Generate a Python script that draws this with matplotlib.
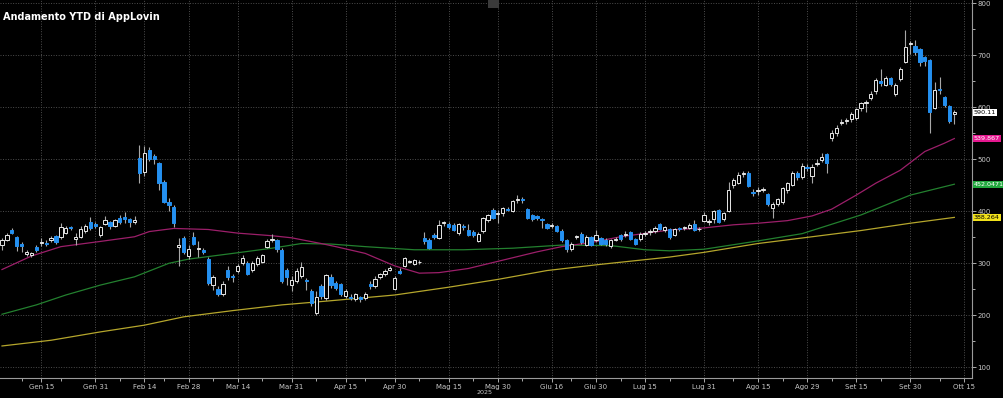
#!/usr/bin/env python3
"""
AppLovin YTD candlestick chart with 50/100/200-day moving averages.
"""
import matplotlib
matplotlib.use("Agg")
import matplotlib.pyplot as plt
import numpy as np
import pandas as pd

# ---- data ----
holidays = ["2025-01-09", "2025-01-20", "2025-02-17", "2025-04-18",
            "2025-05-26", "2025-06-19", "2025-07-04", "2025-09-01"]

opens = [336, 345, 364, 350, 337, 318, 315, 331, 339, 338,
         344, 353, 350, 359, 370, 347, 351, 363, 380, 375,
         354, 375, 380, 372, 388, 389, 386, 380, 502, 475,
         517, 507, 492, 457, 418, 409, 331, 349, 314, 351,
         328, 326, 308, 258, 250, 240, 287, 276, 286, 300,
         301, 287, 298, 302, 332, 345, 344, 326, 288, 258,
         265, 275, 268, 246, 205, 256, 233, 273, 262, 261,
         237, 236, 232, 235, 233, 260, 256, 274, 279, 288,
         250, 286, 295, 302, 299, 302, 348, 345, 354, 349,
         377, 376, 373, 358, 372, 364, 361, 342, 362, 384,
         403, 395, 396, 405, 401, 421, 424, 404, 393, 390,
         386, 376, 371, 372, 363, 345, 327, 350, 357, 336,
         350, 344, 349, 345, 334, 345, 355, 355, 361, 346,
         346, 357, 360, 362, 376, 364, 366, 355, 367, 367,
         368, 375, 365, 382, 380, 385, 402, 385, 400, 450,
         455, 471, 474, 438, 439, 441, 434, 406, 414, 418,
         441, 451, 473, 465, 485, 467, 491, 499, 510, 540,
         550, 569, 573, 577, 580, 598, 608, 617, 632, 650,
         643, 656, 626, 654, 688, 722, 718, 712, 696, 690,
         598, 636, 620, 603, 588]

highs = [348, 358, 368, 352, 341, 326, 322, 335, 348, 344,
         353, 355, 378, 371, 372, 358, 372, 376, 389, 380,
         372, 391, 382, 386, 393, 399, 388, 391, 527, 525,
         523, 510, 495, 460, 425, 412, 348, 352, 335, 361,
         342, 330, 312, 278, 256, 266, 295, 280, 298, 316,
         304, 305, 314, 318, 346, 356, 347, 329, 290, 275,
         290, 303, 271, 250, 246, 260, 280, 280, 266, 263,
         250, 240, 243, 238, 244, 265, 275, 281, 289, 294,
         275, 290, 313, 307, 309, 306, 360, 348, 358, 383,
         382, 380, 377, 378, 375, 375, 364, 360, 389, 395,
         406, 403, 409, 408, 422, 431, 427, 406, 395, 392,
         387, 378, 378, 374, 365, 347, 340, 355, 360, 354,
         352, 364, 351, 348, 346, 350, 357, 362, 363, 349,
         360, 362, 366, 371, 378, 372, 368, 368, 369, 372,
         377, 383, 369, 398, 385, 402, 404, 398, 457, 464,
         476, 478, 477, 442, 446, 447, 436, 418, 426, 447,
         457, 477, 477, 493, 490, 490, 500, 513, 513, 556,
         565, 577, 580, 590, 599, 611, 614, 632, 656, 673,
         660, 658, 646, 677, 749, 728, 730, 714, 699, 693,
         649, 659, 622, 605, 595]

lows = [326, 343, 356, 324, 321, 314, 313, 322, 333, 333,
        340, 338, 346, 356, 364, 336, 348, 358, 364, 368,
        350, 373, 366, 369, 376, 378, 370, 375, 455, 468,
        497, 490, 440, 416, 400, 370, 294, 318, 308, 335,
        313, 318, 258, 249, 238, 238, 268, 264, 282, 296,
        278, 283, 294, 300, 329, 341, 322, 262, 258, 246,
        262, 272, 249, 218, 201, 232, 230, 253, 248, 238,
        233, 229, 228, 226, 230, 250, 252, 270, 276, 285,
        248, 279, 292, 300, 296, 298, 338, 328, 346, 346,
        372, 366, 362, 355, 364, 352, 350, 340, 358, 380,
        385, 378, 390, 400, 398, 415, 415, 385, 382, 384,
        368, 365, 367, 360, 341, 322, 323, 346, 338, 333,
        333, 341, 335, 334, 330, 343, 343, 350, 344, 336,
        343, 352, 355, 358, 364, 360, 346, 352, 362, 364,
        366, 362, 362, 379, 374, 377, 378, 382, 398, 445,
        452, 466, 446, 430, 431, 437, 411, 388, 410, 414,
        436, 448, 461, 462, 478, 455, 488, 494, 473, 536,
        545, 565, 568, 572, 576, 593, 590, 614, 626, 641,
        640, 640, 622, 650, 686, 703, 700, 680, 680, 550,
        596, 626, 600, 570, 567]

closes = [345, 355, 359, 333, 333, 321, 319, 326, 341, 337,
          349, 341, 370, 367, 367, 351, 366, 371, 367, 372,
          370, 383, 371, 383, 379, 386, 379, 383, 473, 513,
          500, 500, 454, 418, 413, 378, 335, 322, 327, 338,
          330, 321, 262, 273, 240, 260, 274, 273, 294, 310,
          280, 300, 310, 315, 342, 347, 327, 266, 274, 268,
          286, 292, 265, 224, 236, 237, 277, 258, 252, 240,
          247, 233, 240, 232, 240, 257, 270, 279, 286, 291,
          272, 282, 310, 304, 306, 303, 342, 330, 351, 373,
          379, 369, 364, 375, 370, 355, 355, 357, 387, 392,
          388, 397, 406, 403, 420, 423, 421, 387, 386, 388,
          384, 368, 373, 363, 344, 327, 337, 352, 340, 351,
          336, 355, 338, 338, 344, 347, 346, 357, 347, 338,
          357, 359, 362, 368, 366, 370, 351, 366, 365, 369,
          374, 364, 366, 393, 382, 400, 380, 396, 441, 460,
          470, 473, 449, 436, 441, 443, 414, 414, 423, 444,
          454, 473, 465, 487, 483, 486, 493, 505, 492, 550,
          561, 571, 575, 587, 596, 608, 610, 626, 652, 647,
          656, 645, 643, 674, 716, 724, 707, 688, 689, 590,
          634, 633, 605, 573, 590.11]

ma50_dates = ["2025-01-02", "2025-01-13", "2025-01-22", "2025-02-03", "2025-02-12",
              "2025-02-18", "2025-02-25", "2025-03-06", "2025-03-14", "2025-03-25",
              "2025-03-31", "2025-04-08", "2025-04-11", "2025-04-22", "2025-04-30",
              "2025-05-07", "2025-05-13", "2025-05-21", "2025-06-02", "2025-06-11",
              "2025-06-18", "2025-06-27", "2025-07-08", "2025-07-22", "2025-07-31",
              "2025-08-08", "2025-08-15", "2025-08-25", "2025-09-02", "2025-09-08",
              "2025-09-15", "2025-09-19", "2025-09-26", "2025-10-03", "2025-10-09",
              "2025-10-13"]
ma50_vals = [288, 314, 332, 342, 351, 361, 367, 365, 358, 353,
             349, 338, 332, 319, 295, 281, 282, 290, 306, 322,
             332, 340, 351, 364, 368, 374, 377, 382, 391, 404,
             431, 454, 479, 515, 531, 539.867]

ma100_dates = ["2025-01-02", "2025-01-14", "2025-01-23", "2025-02-03", "2025-02-12",
               "2025-02-24", "2025-02-28", "2025-03-13", "2025-03-25", "2025-04-02",
               "2025-04-10", "2025-04-22", "2025-05-06", "2025-05-20", "2025-06-04",
               "2025-06-18", "2025-07-03", "2025-07-15", "2025-07-22", "2025-07-31",
               "2025-08-15", "2025-08-28", "2025-09-16", "2025-09-30", "2025-10-13"]
ma100_vals = [202, 220, 239, 258, 274, 300, 308, 319, 329, 338,
              337, 332, 326, 326, 329, 335, 334, 326, 324, 327,
              343, 357, 393, 431, 452.0471]

ma200_dates = ["2025-01-02", "2025-01-17", "2025-02-03", "2025-02-14", "2025-02-27",
               "2025-03-13", "2025-03-27", "2025-04-10", "2025-04-30", "2025-05-15",
               "2025-05-30", "2025-06-13", "2025-06-30", "2025-07-22", "2025-07-31",
               "2025-08-15", "2025-09-02", "2025-09-16", "2025-09-30", "2025-10-13"]
ma200_vals = [141, 152, 168, 181, 197, 209, 220, 228, 239, 254,
              269, 286, 297, 312, 321, 338, 351, 363, 377, 388.264]

tick_dates = ["2025-01-15", "2025-01-31", "2025-02-14", "2025-02-28", "2025-03-14",
              "2025-03-31", "2025-04-15", "2025-04-30", "2025-05-15", "2025-05-30",
              "2025-06-16", "2025-06-30", "2025-07-15", "2025-07-31", "2025-08-15",
              "2025-08-29", "2025-09-15", "2025-09-30", "2025-10-15"]
tick_labels = ["Gen 15", "Gen 31", "Feb 14", "Feb 28", "Mar 14", "Mar 31", "Apr 15",
               "Apr 30", "Mag 15", "Mag 30", "Giu 16", "Giu 30", "Lug 15", "Lug 31",
               "Ago 15", "Ago 29", "Set 15", "Set 30", "Ott 15"]
minor_dates = ["2025-01-08", "2025-01-22", "2025-02-07", "2025-02-21", "2025-03-07",
               "2025-03-21", "2025-04-07", "2025-04-22", "2025-05-07", "2025-05-22",
               "2025-06-06", "2025-06-23", "2025-07-08", "2025-07-22", "2025-08-08",
               "2025-08-22", "2025-09-08", "2025-09-22", "2025-10-08"]

UP = "#e8e8e8"
DOWN = "#2490f0"
WICK = "#a8a8a8"


def main() -> None:
    sessions = pd.bdate_range("2025-01-02", "2025-10-31", freq="C", holidays=holidays)

    def pos(days):
        return sessions.searchsorted(pd.to_datetime(days))

    o = np.array(opens, float)
    h = np.array(highs, float)
    lo = np.array(lows, float)
    c = np.array(closes, float)
    x = np.arange(len(c))
    up = c >= o

    fig = plt.figure(figsize=(10.04, 3.98), dpi=100, facecolor="black")
    ax = fig.add_axes([0, 20 / 398, 972 / 1004, 378 / 398])
    ax.set_facecolor("black")
    ax.set_xlim(-0.41, 197.6)
    ax.set_ylim(79.4, 806.3)

    # moving averages
    ax.plot(pos(ma200_dates), ma200_vals, color="#b5a62c", lw=0.9, zorder=2)
    ax.plot(pos(ma100_dates), ma100_vals, color="#23802f", lw=0.9, zorder=2)
    ax.plot(pos(ma50_dates), ma50_vals, color="#9c1f6a", lw=0.9, zorder=2)

    # candles
    ax.vlines(x, lo, h, color=WICK, lw=0.8, zorder=3)
    body_lo = np.minimum(o, c)
    body_h = np.maximum(np.abs(c - o), 1.2)
    ax.bar(x[up], body_h[up], bottom=body_lo[up], width=0.66,
           facecolor="black", edgecolor=UP, linewidth=0.7, zorder=4)
    ax.bar(x[~up], body_h[~up], bottom=body_lo[~up], width=0.66,
           facecolor=DOWN, edgecolor=DOWN, linewidth=0.7, zorder=4)

    # axes styling
    ax.yaxis.tick_right()
    ax.set_yticks(range(100, 900, 100))
    ax.set_yticks(range(150, 800, 100), minor=True)
    ax.set_xticks(pos(tick_dates))
    ax.set_xticks(pos(minor_dates), minor=True)
    ax.set_xticklabels(tick_labels)
    ax.tick_params(colors="#c8c8c8", labelsize=5, length=3, width=0.6, pad=1)
    ax.tick_params(which="minor", length=2, width=0.6, colors="#c8c8c8")
    ax.grid(which="major", color="#4d4d4d", linestyle=(0, (1, 1.6)), linewidth=0.7)
    for side in ("top", "left"):
        ax.spines[side].set_visible(False)
    for side in ("right", "bottom"):
        ax.spines[side].set_color("#9a9a9a")
        ax.spines[side].set_linewidth(0.8)

    # last-value tags
    tags = [(closes[-1], f"{closes[-1]:.2f}", "white", "black"),
            (ma50_vals[-1], "539.867", "#e5178f", "white"),
            (ma100_vals[-1], "452.0471", "#22a83e", "white"),
            (ma200_vals[-1], "388.264", "#f2e21b", "black")]
    for val, txt, fc, tc in tags:
        ax.annotate(txt, xy=(1.0, val), xycoords=ax.get_yaxis_transform(),
                    xytext=(2, 0), textcoords="offset pixels", va="center", ha="left",
                    fontsize=4.6, color=tc, annotation_clip=False, zorder=6,
                    bbox=dict(boxstyle="square,pad=0.15", fc=fc, ec="none"))

    fig.text(3 / 1004, 1 - 17 / 398, "Andamento YTD di AppLovin", color="white",
             fontweight="bold", fontsize=7, va="center", ha="left")
    fig.text(485 / 1004, 1 - 393 / 398, "2025", color="#c8c8c8", fontsize=4.6,
             va="center", ha="center")
    fig.patches.append(plt.Rectangle((488 / 1004, 1 - 8 / 398), 11 / 1004, 8 / 398,
                                     transform=fig.transFigure, fc="#3a3a3a", ec="none"))

    fig.savefig("out.png", dpi=100, facecolor="black")
    plt.close(fig)


if __name__ == "__main__":
    main()
